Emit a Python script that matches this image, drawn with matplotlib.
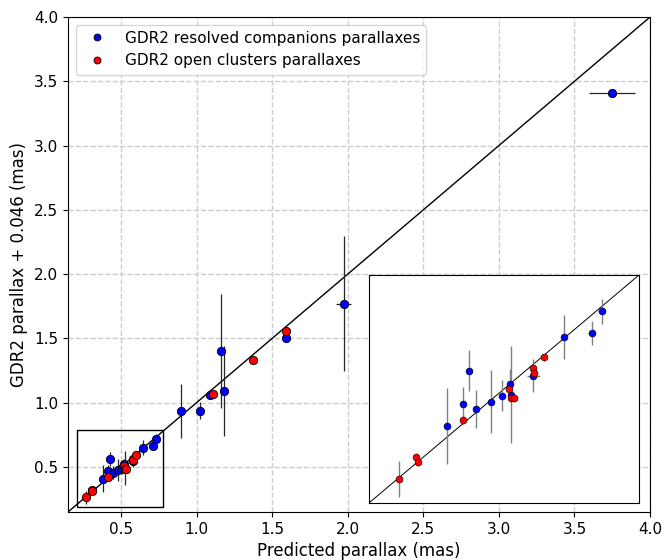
import matplotlib
matplotlib.use('Agg')
import matplotlib.pyplot as plt
from matplotlib.patches import Rectangle

# resolved companions (blue)
comp_pred = [0.380, 0.417, 0.429, 0.446, 0.480, 0.505, 0.523, 0.525, 0.577, 0.647, 0.711, 0.734,
             0.898, 1.024, 1.092, 1.163, 1.180, 1.595, 1.974, 3.749]
comp_obs = [0.410, 0.469, 0.560, 0.456, 0.475, 0.492, 0.523, 0.494, 0.546, 0.651, 0.662, 0.721,
            0.935, 0.938, 1.060, 1.402, 1.093, 1.505, 1.770, 3.406]
comp_yerr = [0.104, 0.047, 0.055, 0.052, 0.086, 0.043, 0.042, 0.132, 0.045, 0.060, 0.033, 0.033,
             0.210, 0.068, 0.015, 0.445, 0.350, 0.020, 0.525, 0.030]
comp_xerr = [0.0, 0.0, 0.0, 0.0, 0.0, 0.0, 0.0, 0.0, 0.015, 0.0, 0.008, 0.008,
             0.0, 0.0, 0.0, 0.0, 0.0, 0.026, 0.050, 0.154]

# open clusters (red)
clus_pred = [0.268, 0.309, 0.312, 0.417, 0.522, 0.525, 0.534, 0.577, 0.580, 0.603, 1.110, 1.376, 1.595]
clus_obs = [0.265, 0.325, 0.311, 0.426, 0.510, 0.486, 0.486, 0.566, 0.553, 0.596, 1.070, 1.332, 1.560]
clus_yerr = [0.050, 0.010, 0.010, 0.012, 0.015, 0.012, 0.012, 0.012, 0.012, 0.010, 0.010, 0.010, 0.012]
clus_xerr = [0.0, 0.0, 0.0, 0.0, 0.0, 0.0, 0.0, 0.0, 0.0, 0.0, 0.0, 0.0, 0.020]

fig = plt.figure(figsize=(6.64, 5.6), dpi=100)
ax = fig.add_axes([0.1024, 0.0857, 0.8766, 0.8839])

ax.errorbar(comp_pred, comp_obs, yerr=comp_yerr, xerr=comp_xerr, fmt='o', color='b', mec='k', mew=0.6,
            ms=6, ecolor='0.15', elinewidth=0.9, zorder=3)
ax.errorbar(clus_pred, clus_obs, yerr=clus_yerr, xerr=clus_xerr, fmt='o', color='r', mec='k', mew=0.6,
            ms=6, ecolor='0.15', elinewidth=0.9, zorder=3)
ax.plot([0, 4], [0, 4], 'k-', lw=1, zorder=2)

ax.plot([], [], 'o', color='b', mec='k', mew=0.6, ms=5, label='GDR2 resolved companions parallaxes')
ax.plot([], [], 'o', color='r', mec='k', mew=0.6, ms=5, label='GDR2 open clusters parallaxes')
ax.legend(loc='upper left', fontsize=11, numpoints=1)

ax.add_patch(Rectangle((0.21, 0.19), 0.57, 0.60, fill=False, ec='k', lw=1, zorder=4))

ax.set_xlim(0.15, 4.0)
ax.set_ylim(0.15, 4.0)
ax.set_xticks([0.5, 1.0, 1.5, 2.0, 2.5, 3.0, 3.5, 4.0])
ax.set_yticks([0.5, 1.0, 1.5, 2.0, 2.5, 3.0, 3.5, 4.0])
ax.tick_params(labelsize=11)
ax.grid(True, ls='--', color='0.8', lw=1)
ax.set_axisbelow(True)
ax.set_xlabel('Predicted parallax (mas)', fontsize=12)
ax.set_ylabel('GDR2 parallax + 0.046 (mas)', fontsize=12)

# zoomed inset
axin = fig.add_axes([0.5557, 0.1018, 0.4066, 0.4071])
axin.errorbar(comp_pred, comp_obs, yerr=comp_yerr, xerr=comp_xerr, fmt='o', color='b', mec='k', mew=0.4,
              ms=5, ecolor='0.5', elinewidth=1, zorder=3)
axin.errorbar(clus_pred, clus_obs, yerr=clus_yerr, xerr=clus_xerr, fmt='o', color='r', mec='k', mew=0.4,
              ms=5, ecolor='0.5', elinewidth=1, zorder=3)
axin.plot([0, 4], [0, 4], 'k-', lw=0.7, zorder=2)
axin.set_xlim(0.2, 0.82)
axin.set_ylim(0.2, 0.82)
axin.set_xticks([])
axin.set_yticks([])

fig.savefig('out.png', dpi=100)
